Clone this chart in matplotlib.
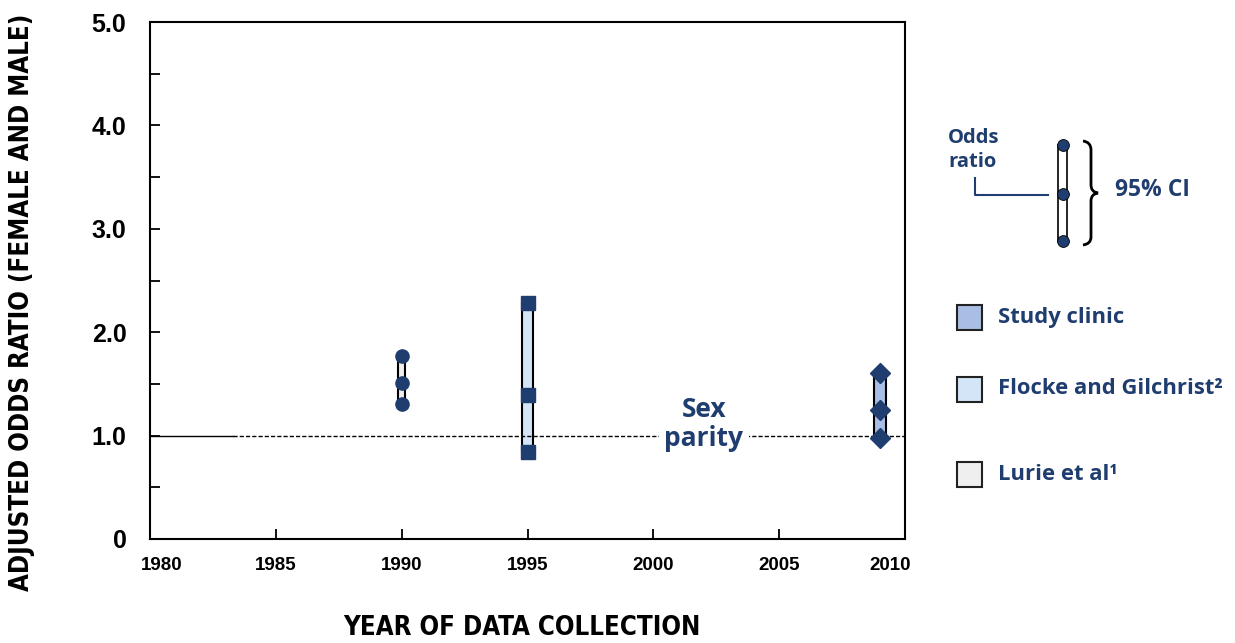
import numpy as np
import matplotlib.pyplot as plt
import matplotlib.patches as patches
from matplotlib.path import Path
from matplotlib.ticker import MultipleLocator
from matplotlib.transforms import ScaledTranslation

# data
years = [1990, 1995, 2009]
odds = [1.51, 1.39, 1.25]
ci_low = [1.31, 0.84, 0.98]
ci_high = [1.77, 2.28, 1.61]
studies = ['Lurie et al¹', 'Flocke and Gilchrist²', 'Study clinic']
fills = ['#efefef', '#d3e5f6', '#a9bee4']
markers = ['o', 's', 'D']
msizes = [9.5, 9.5, 10]
widths = [0.3, 0.45, 0.5]
xticks = [1980, 1985, 1990, 1995, 2000, 2005, 2010]
yticks = [0, 1, 2, 3, 4, 5]
ytick_labels = ['0', '1.0', '2.0', '3.0', '4.0', '5.0']

navy = '#1f3d6e'
navy_font = ['Open Sans', 'DejaVu Sans']
tick_font = ['Liberation Sans', 'DejaVu Sans']

fig = plt.figure(figsize=(12.35, 6.43), dpi=100)
ax = fig.add_axes([150 / 1235, 1 - 539 / 643, 755 / 1235, 517 / 643])

for i in range(len(years)):
    ax.bar(years[i], ci_high[i] - ci_low[i], bottom=ci_low[i], width=widths[i],
           color=fills[i], edgecolor='k', linewidth=1.5, zorder=3)
    ax.plot([years[i]] * 3, [ci_low[i], odds[i], ci_high[i]], ls='none',
            marker=markers[i], ms=msizes[i], color=navy, mec=navy, zorder=5)

# sex parity reference line
ax.plot([1980, 1983.3], [1, 1], color='k', lw=1, zorder=4)
ax.plot([1983.3, 2010], [1, 1], color='k', lw=1, ls=(0, (3, 1.5)), zorder=4)
ax.text(2002, 1.11, 'Sex\nparity', ha='center', va='center', fontsize=19,
        fontweight='bold', color=navy, family=navy_font, linespacing=1.1,
        bbox=dict(facecolor='white', edgecolor='none', pad=4), zorder=6)

ax.set_xlim(1980, 2010)
ax.set_ylim(0, 5)
ax.set_xticks(xticks)
ax.set_yticks(yticks)
ax.set_yticklabels(ytick_labels)
ax.yaxis.set_minor_locator(MultipleLocator(0.5))
ax.tick_params(which='both', direction='in', length=7, width=1.3)
ax.tick_params(axis='x', pad=13)
ax.tick_params(axis='y', pad=17)
xlabs = ax.get_xticklabels()
for lab in xlabs:
    lab.set_fontsize(13.5)
    lab.set_fontweight('bold')
    lab.set_family(tick_font)
# outer year labels sit a little inside the frame
xlabs[0].set_transform(xlabs[0].get_transform() + ScaledTranslation(12 / 100, 0, fig.dpi_scale_trans))
xlabs[-1].set_transform(xlabs[-1].get_transform() + ScaledTranslation(-15 / 100, 0, fig.dpi_scale_trans))
for lab in ax.get_yticklabels():
    lab.set_fontsize(18)
    lab.set_fontweight('bold')
    lab.set_family(tick_font)
for sp in ax.spines.values():
    sp.set_linewidth(1.5)

fig.text(22 / 1235, 1 - 302 / 643, 'ADJUSTED ODDS RATIO (FEMALE AND MALE)',
         rotation=90, ha='center', va='center', fontsize=18.5, family=['DejaVu Sans'],
         fontstretch='condensed', fontweight='bold')
fig.text(522 / 1235, 1 - 628 / 643, 'YEAR OF DATA COLLECTION',
         ha='center', va='center', fontsize=18.5, family=['DejaVu Sans'],
         fontstretch='condensed', fontweight='bold')

# key and legend drawn in pixel coordinates
kax = fig.add_axes([0, 0, 1, 1])
kax.set_xlim(0, 1235)
kax.set_ylim(643, 0)
kax.axis('off')

leg_y = [474, 389, 317]
for i in range(len(studies)):
    kax.add_patch(patches.Rectangle((957, leg_y[i] - 12.5), 25, 25, facecolor=fills[i],
                                    edgecolor='#222222', lw=1.5))
    kax.text(998, leg_y[i], studies[i], ha='left', va='center', fontsize=15.8,
             fontweight='bold', color=navy, family=navy_font)

kax.add_patch(patches.Rectangle((1058, 145), 9, 96, facecolor='white', edgecolor='k', lw=1.2))
kax.plot([1062.5] * 3, [145, 194, 241], ls='none', marker='o', ms=8.5, color=navy, mec='k', mew=0.6)
kax.plot([975, 975, 1048], [178, 195, 195], color=navy, lw=1.5)
kax.text(948, 138, 'Odds', ha='left', va='center', fontsize=14.5, fontweight='bold',
         color=navy, family=navy_font)
kax.text(948, 162, 'ratio', ha='left', va='center', fontsize=14.5, fontweight='bold',
         color=navy, family=navy_font)
kax.text(1115, 190, '95% CI', ha='left', va='center', fontsize=16.5, fontweight='bold',
         color=navy, family=navy_font)

verts = [(1083, 141), (1091, 142), (1091, 150), (1091, 185), (1091, 192), (1098, 193),
         (1091, 194), (1091, 201), (1091, 237), (1091, 244), (1083, 245)]
codes = [Path.MOVETO, Path.CURVE3, Path.CURVE3, Path.LINETO, Path.CURVE3, Path.CURVE3,
         Path.CURVE3, Path.CURVE3, Path.LINETO, Path.CURVE3, Path.CURVE3]
kax.add_patch(patches.PathPatch(Path(verts, codes), facecolor='none', edgecolor='k', lw=2))

plt.savefig('out.png', dpi=100)
